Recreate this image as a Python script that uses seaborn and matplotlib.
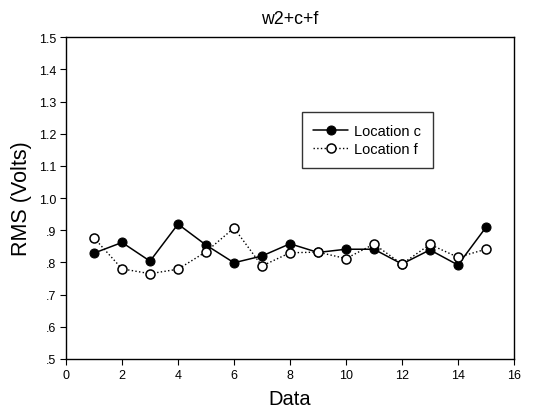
import numpy as np
import pandas as pd
import matplotlib
matplotlib.use("Agg")
import matplotlib.pyplot as plt
import seaborn as sns
from matplotlib.ticker import FuncFormatter

# values
data_idx = list(range(1, 16))
loc_c = [0.829, 0.862, 0.804, 0.919, 0.854, 0.799, 0.820, 0.858,
         0.831, 0.841, 0.841, 0.795, 0.839, 0.792, 0.909]
loc_f = [0.876, 0.780, 0.765, 0.779, 0.833, 0.907, 0.789, 0.830,
         0.832, 0.812, 0.857, 0.795, 0.856, 0.816, 0.841]
series_names = ["Location c", "Location f"]
x_ticks = list(range(0, 17, 2))
y_ticks = [0.5, 0.6, 0.7, 0.8, 0.9, 1.0, 1.1, 1.2, 1.3, 1.4, 1.5]

sns.set_theme(style="ticks", rc={"text.color": "black",
                                 "axes.labelcolor": "black",
                                 "xtick.color": "black",
                                 "ytick.color": "black",
                                 "axes.edgecolor": "black"})
plt.rcParams['font.family'] = ['Liberation Sans', 'DejaVu Sans']

df = pd.DataFrame({"Data": data_idx, "c": loc_c, "f": loc_f})

fig = plt.figure(figsize=(5.37, 4.10), dpi=100)
ax = fig.add_axes([0.123, 0.122, 0.834, 0.785])

sns.lineplot(data=df, x="Data", y="c", ax=ax, color="black", linewidth=1.1,
             marker="o", markersize=6.5, markerfacecolor="black",
             markeredgecolor="black", label=series_names[0])
sns.lineplot(data=df, x="Data", y="f", ax=ax, color="black", linewidth=1.0,
             linestyle=":", marker="o", markersize=6.5, markerfacecolor="white",
             markeredgecolor="black", markeredgewidth=1.1, label=series_names[1])

ax.set_xlim(0, 16)
ax.set_ylim(0.5, 1.5)
ax.set_xticks(x_ticks)
ax.set_yticks(y_ticks)


def fmt_y(v, pos):
    s = f"{v:.1f}"
    return s[1:] if s.startswith("0") else s


ax.yaxis.set_major_formatter(FuncFormatter(fmt_y))
ax.tick_params(axis="both", direction="out", length=4, width=0.8,
               labelsize=9, colors="black", pad=3)
for sp in ax.spines.values():
    sp.set_visible(True)
    sp.set_color("black")
    sp.set_linewidth(1.0)

ax.set_xlabel("Data", fontsize=14.5, labelpad=6, color="black")
ax.set_ylabel("RMS (Volts)", fontsize=15.5, labelpad=5, color="black")
ax.set_title("w2+c+f", fontsize=12.8, pad=10, color="black")

leg = ax.legend(loc="upper left", bbox_to_anchor=(0.51, 0.79), fontsize=10.5,
                frameon=True, fancybox=False, handlelength=2.4,
                borderpad=0.8, labelspacing=0.3, handletextpad=0.4)
leg.get_frame().set_edgecolor("black")
leg.get_frame().set_linewidth(1.0)
for t in leg.get_texts():
    t.set_color("black")

fig.savefig("out.png", dpi=100)
